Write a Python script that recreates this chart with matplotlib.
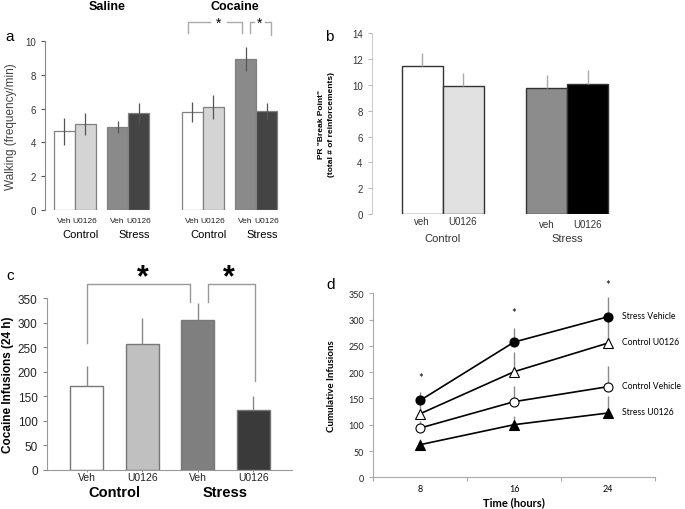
import matplotlib
matplotlib.use("Agg")
import matplotlib.pyplot as plt
import numpy as np

plt.rcParams['font.family'] = ['Liberation Sans', 'DejaVu Sans']

W, H = 685, 510

# ---------------- data ----------------
# Panel a: walking (frequency/min)
a_groups = ["Saline", "Cocaine"]
a_conditions = ["Control", "Stress"]
a_treat = ["Veh", "U0126"]
a_vals = [4.65, 5.1, 4.9, 5.75, 5.8, 6.1, 8.95, 5.85]
a_err = [0.82, 0.64, 0.36, 0.59, 0.58, 0.72, 0.72, 0.5]
a_colors = ["#ffffff", "#d4d4d4", "#8a8a8a", "#444444"] * 2

# Panel b: PR break point
b_conditions = ["Control", "Stress"]
b_treat = ["veh", "U0126"]
b_vals = [11.5, 9.92, 9.77, 10.1]
b_err = [0.98, 1.0, 0.98, 1.04]
b_colors = ["#ffffff", "#e1e1e1", "#8c8c8c", "#000000"]

# Panel c: cocaine infusions (24 h)
c_labels = ["Veh", "U0126", "Veh", "U0126"]
c_conditions = ["Control", "Stress"]
c_vals = [171.7, 256.8, 305.0, 121.3]
c_err = [39.5, 53.2, 35.6, 29.2]
c_colors = ["#ffffff", "#c0c0c0", "#7f7f7f", "#3a3a3a"]

# Panel d: cumulative infusions
d_hours = [8, 16, 24]
d_series = ["Stress Vehicle", "Control U0126", "Control Vehicle", "Stress U0126"]
d_stress_veh = [146.4, 257.3, 305.4]
d_stress_veh_err = [16.5, 27.2, 36.8]
d_control_u0126 = [121.0, 200.9, 255.4]
d_control_u0126_err = [24.0, 36.7, 54.0]
d_control_veh = [93.8, 143.9, 172.4]
d_control_veh_err = [13.9, 30.4, 38.6]
d_stress_u0126 = [62.1, 100.1, 122.3]
d_stress_u0126_err = [10.8, 15.9, 32.3]
d_sig = [190, 314, 367]

fig = plt.figure(figsize=(W / 100, H / 100), dpi=100)


def px_axes(l, t, r, b):
    return fig.add_axes([l / W, 1 - b / H, (r - l) / W, (b - t) / H])


def fig_text(x, y, s, **kw):
    fig.text(x / W, 1 - y / H, s, **kw)


# ================= Panel a =================
axa = px_axes(45, 42, 280, 211)
pair_off = 2.55
grp_off = 6.1
a_x = []
for g in range(2):
    for c in range(2):
        for t in range(2):
            a_x.append(g * grp_off + c * pair_off + t)
a_x = np.array(a_x)
axa.bar(a_x, a_vals, width=1.0, color=a_colors, edgecolor="#808080", linewidth=0.9)
axa.errorbar(a_x, a_vals, yerr=a_err, fmt="none", ecolor="#555555", elinewidth=0.9, capsize=0)
axa.set_xlim((45 - 64) / 21, (280 - 64) / 21)
axa.set_ylim(0, 10)
axa.set_yticks(np.arange(0, 11, 2))
axa.tick_params(axis="y", labelsize=7, colors="#555555", length=3, width=0.8, labelcolor="#333333")
axa.set_ylabel("Walking (frequency/min)", fontsize=8.5, color="#444444", labelpad=6)
for s in ["top", "right", "bottom"]:
    axa.spines[s].set_visible(False)
axa.spines["left"].set_color("#888888")
axa.set_xticks(a_x)
axa.set_xticklabels(a_treat * 4, fontsize=6, family=["Liberation Sans Narrow", "Liberation Sans"])
axa.tick_params(axis="x", length=0, pad=5, labelcolor="#222222")
for g in range(2):
    for c in range(2):
        xc = g * grp_off + c * pair_off + 0.5
        axa.text(xc + 0.3, -1.42, a_conditions[c], ha="center", va="center", fontsize=8,
                 clip_on=False)
    axa.text(g * grp_off + pair_off / 2 + 0.5 + 0.27, 12.1, a_groups[g], ha="center",
             va="center", fontsize=9, fontweight="bold", clip_on=False)
# significance brackets (panel a)
br_col = "#aaaaaa"
for xs, ys in [([5.9, 5.9, 6.95], [10.47, 11.14, 11.14]),
               ([7.75, 8.46, 8.46], [11.14, 11.14, 10.47]),
               ([8.86, 8.86, 9.05], [10.47, 11.14, 11.14]),
               ([9.55, 9.84, 9.84], [11.14, 11.14, 10.36])]:
    axa.plot(xs, ys, color=br_col, lw=1, clip_on=False)
axa.text(7.35, 11.05, "*", ha="center", va="center", fontsize=10, clip_on=False)
axa.text(9.3, 11.05, "*", ha="center", va="center", fontsize=10, clip_on=False)

# ================= Panel b =================
axb = px_axes(371.7, 34.3, 620, 215)
b_x = np.array([0, 1, 3.04, 4.04])
axb.bar(b_x, b_vals, width=1.0, color=b_colors, edgecolor="#333333", linewidth=1.0)
axb.errorbar(b_x, b_vals, yerr=[np.zeros(4), b_err], fmt="none", ecolor="#aaaaaa",
             elinewidth=1, capsize=0)
axb.set_xlim((371.7 - 422) / 41, (620 - 422) / 41)
axb.set_ylim(0, 14)
axb.set_yticks(np.arange(0, 15, 2))
axb.tick_params(axis="y", labelsize=7, colors="#bbbbbb", labelcolor="#333333", length=3)
for s in ["top", "right", "bottom"]:
    axb.spines[s].set_visible(False)
axb.spines["left"].set_color("#cccccc")
axb.set_xticks([])
for i, xv in enumerate(b_x):
    yy = -0.55 if i < 2 else -0.75
    axb.text(xv, yy, b_treat[i % 2], ha="center", va="center", fontsize=7, color="#333333")
for c in range(2):
    axb.text(b_x[2 * c] + 0.5, -1.85, b_conditions[c], ha="center", va="center",
             fontsize=8, color="#333333")
axb.set_ylabel('PR "Break Point"\n(total # of reinforcements)', fontsize=6,
               fontweight="bold", labelpad=12, linespacing=1.6)

# ================= Panel c =================
axc = px_axes(46.7, 299.3, 291.7, 470.7)
c_x = np.arange(4)
axc.bar(c_x, c_vals, width=0.6, color=c_colors, edgecolor="#777777", linewidth=1.0)
axc.errorbar(c_x, c_vals, yerr=[np.zeros(4), c_err], fmt="none", ecolor="#888888",
             elinewidth=1, capsize=0)
axc.set_xlim(-0.72, 3.69)
axc.set_ylim(0, 350)
axc.set_yticks(np.arange(0, 351, 50))
axc.tick_params(axis="y", labelsize=8.5, colors="#888888", labelcolor="#222222", length=3)
axc.set_xticks(c_x)
axc.set_xticklabels(c_labels, fontsize=7.5)
axc.tick_params(axis="x", length=1.5, colors="#999999", labelcolor="#222222", pad=0.5)
for s in ["top", "right"]:
    axc.spines[s].set_visible(False)
axc.spines["left"].set_color("#999999")
axc.spines["bottom"].set_color("#999999")
axc.set_ylabel("Cocaine Infusions (24 h)", fontsize=8.5, fontweight="bold", labelpad=3)
for c in range(2):
    axc.text(2 * c + 0.5, -46, c_conditions[c], ha="center", va="center", fontsize=10.5,
             fontweight="bold", clip_on=False)
for xs, ys in [([0, 0, 1.86, 1.86], [258.7, 379.2, 379.2, 343]),
               ([2.19, 2.19, 3.03, 3.03], [343, 379.2, 379.2, 181.7])]:
    axc.plot(xs, ys, color="#999999", lw=1, clip_on=False)
axc.text(1.01, 392, "*", ha="center", va="center", fontsize=22, fontweight="bold", clip_on=False)
axc.text(2.55, 392, "*", ha="center", va="center", fontsize=22, fontweight="bold", clip_on=False)

# ================= Panel d =================
dfont = ["Lato", "DejaVu Sans"]
axd = px_axes(373.3, 294.3, 655, 478.3)
d_vals = [d_stress_veh, d_control_u0126, d_control_veh, d_stress_u0126]
d_errs = [d_stress_veh_err, d_control_u0126_err, d_control_veh_err, d_stress_u0126_err]
d_markers = [("o", "black"), ("^", "white"), ("o", "white"), ("^", "black")]
for vals, errs, (m, fc), name in zip(d_vals, d_errs, d_markers, d_series):
    axd.errorbar(d_hours, vals, yerr=[np.zeros(3), errs], fmt="none", ecolor="#8a8a8a",
                 elinewidth=1, capsize=0, zorder=1)
    axd.plot(d_hours, vals, color="black", lw=1.2, marker=m, markersize=6.5,
             markerfacecolor=fc, markeredgecolor="black", markeredgewidth=0.8, zorder=3)
    axd.text(25.2, vals[-1] + 3, name, ha="left", va="center", fontsize=6.2, family=dfont,
             clip_on=False)
for h, s in zip(d_hours, d_sig):
    axd.text(h, s, "*", ha="center", va="center", fontsize=8, family=dfont)
axd.set_xlim(4, 28)
axd.set_ylim(0, 350)
axd.set_xticks([4, 12, 20, 28])
axd.set_xticklabels([])
axd.set_xticks(d_hours, minor=True)
axd.set_xticklabels([str(h) for h in d_hours], minor=True, fontsize=6.5, family=dfont)
axd.tick_params(axis="x", which="minor", length=0, pad=5)
axd.tick_params(axis="x", which="major", length=3, colors="#aaaaaa")
axd.set_yticks(np.arange(0, 351, 50))
axd.set_yticklabels([str(v) for v in range(0, 351, 50)], fontsize=6.5, family=dfont)
axd.tick_params(axis="y", length=3, colors="#aaaaaa", labelcolor="#222222")
for s in ["top", "right"]:
    axd.spines[s].set_visible(False)
axd.spines["left"].set_color("#aaaaaa")
axd.spines["bottom"].set_color("#aaaaaa")
axd.set_xlabel("Time (hours)", fontsize=8, fontweight="bold", family=dfont, labelpad=2)
axd.set_ylabel("Cumulative Infusions", fontsize=7, fontweight="bold", family=dfont, labelpad=9)

# panel letters
fig_text(5, 37, "a", fontsize=11, va="center", ha="left")
fig_text(325, 37, "b", fontsize=11, va="center", ha="left")
fig_text(6, 276, "c", fontsize=11, va="center", ha="left")
fig_text(326, 285, "d", fontsize=11, va="center", ha="left")

fig.savefig("out.png", dpi=100)
